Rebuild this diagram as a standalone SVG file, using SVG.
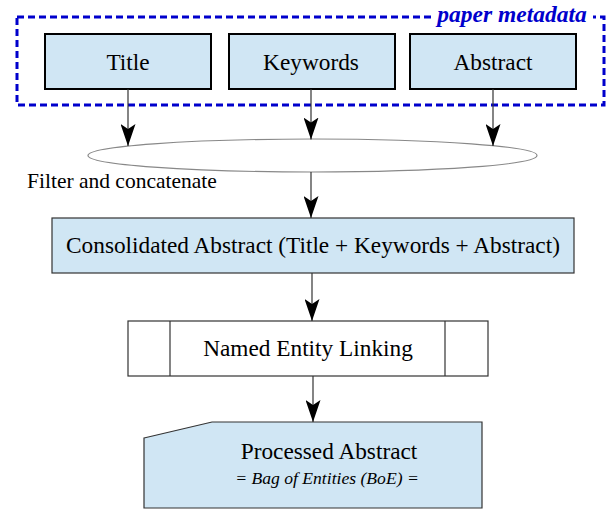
<svg xmlns="http://www.w3.org/2000/svg" width="609" height="510" viewBox="0 0 609 510">
<defs>
<style>
.box{fill:#d0e6f4;stroke:#000;stroke-width:2}
.box1{fill:#d0e6f4;stroke:#333;stroke-width:1.2}
.plain{fill:#fff;stroke:#333;stroke-width:1.2}
text{font-family:'Liberation Serif','DejaVu Serif',serif;fill:#000}
.lbl{font-size:23.3px;text-anchor:middle}
.conn{stroke:#333;stroke-width:1.2;fill:none}
</style>
<marker id="ah2" viewBox="0 0 22 15" refX="22" refY="7.5" markerWidth="22" markerHeight="15" markerUnits="userSpaceOnUse" orient="auto">
<path d="M0,0 L22,7.5 L0,15 L5,7.5 Z" fill="#000"/>
</marker>
</defs>
<rect width="609" height="510" fill="#fff"/>
<g id="group-metadata">
<rect x="17" y="17" width="587" height="88" fill="none" stroke="#0000cc" stroke-width="3" stroke-dasharray="7,4"/>
<rect x="431" y="4" width="162" height="22" fill="#fff"/>
<text x="512" y="22" font-size="23.5" font-weight="bold" font-style="italic" style="fill:#0000cc" text-anchor="middle">paper metadata</text>
</g>
<g id="node-title">
<rect class="box" x="45" y="34" width="166" height="55"/>
<text class="lbl" x="128" y="70">Title</text>
</g>
<g id="node-keywords">
<rect class="box" x="229" y="34" width="166" height="55"/>
<text class="lbl" x="311" y="70">Keywords</text>
</g>
<g id="node-abstract">
<rect class="box" x="410" y="34" width="166" height="55"/>
<text class="lbl" x="493" y="70">Abstract</text>
</g>
<g id="node-filter">
<ellipse cx="312.5" cy="155.5" rx="224.5" ry="16.5" fill="#fff" stroke="#888" stroke-width="1.2"/>
<text x="27" y="188" font-size="21.5">Filter and concatenate</text>
</g>
<g id="node-consolidated">
<rect class="box1" x="52" y="218" width="522" height="55"/>
<text class="lbl" x="313" y="253">Consolidated Abstract (Title + Keywords + Abstract)</text>
</g>
<g id="node-nel">
<rect class="plain" x="128" y="321" width="360" height="55"/>
<line x1="170" y1="321" x2="170" y2="376" stroke="#333" stroke-width="1.2"/>
<line x1="445" y1="321" x2="445" y2="376" stroke="#333" stroke-width="1.2"/>
<text class="lbl" x="308" y="356">Named Entity Linking</text>
</g>
<g id="node-processed">
<path class="box1" d="M144,438 L212,422 L482,422 L482,508 L144,508 Z"/>
<text class="lbl" x="329" y="459">Processed Abstract</text>
<text x="327" y="484" font-size="17.6" font-style="italic" text-anchor="middle">= Bag of Entities (BoE) =</text>
</g>
<g id="connectors">
<line class="conn" x1="128" y1="89" x2="128" y2="146" marker-end="url(#ah2)"/>
<line class="conn" x1="311" y1="89" x2="311" y2="139.5" marker-end="url(#ah2)"/>
<line class="conn" x1="493" y1="89" x2="493" y2="146" marker-end="url(#ah2)"/>
<line class="conn" x1="311" y1="172" x2="311" y2="218" marker-end="url(#ah2)"/>
<line class="conn" x1="312" y1="273" x2="312" y2="321" marker-end="url(#ah2)"/>
<line class="conn" x1="313" y1="376" x2="313" y2="422" marker-end="url(#ah2)"/>
</g>
</svg>
